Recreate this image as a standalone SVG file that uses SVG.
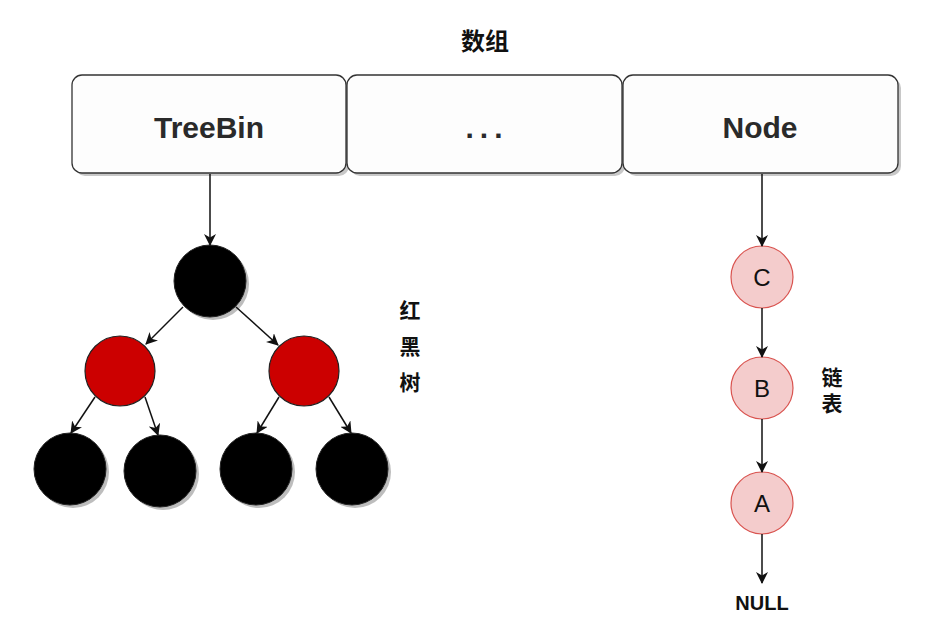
<svg xmlns="http://www.w3.org/2000/svg" width="930" height="624" viewBox="0 0 930 624">
<style>
.box{fill:#fdfdfd;stroke:#333;stroke-width:1.3}
.shadow{fill:#c8c8c8}
.lbl{font-family:"Comic Sans MS","Liberation Sans","DejaVu Sans",sans-serif;font-size:30px;font-weight:bold;fill:#2a2a2a;text-anchor:middle}
.cn{font-family:"Liberation Sans","Noto Sans CJK SC",sans-serif;font-weight:bold;fill:#111;text-anchor:middle}
.blk{fill:#000;stroke:#222;stroke-width:1}
.red{fill:#cc0000;stroke:#222;stroke-width:1.2}
.csh{fill:#bdbdbd}
.pink{fill:#f4cccc;stroke:#d9534f;stroke-width:1.2}
.letter{font-family:"Comic Sans MS","Liberation Sans","DejaVu Sans",sans-serif;font-size:24px;fill:#111;text-anchor:middle}
.conn line{stroke:#111;stroke-width:1.5;marker-end:url(#ah)}
</style>
<defs>
<marker id="ah" viewBox="0 0 12 12" refX="11" refY="6" markerWidth="12" markerHeight="12" markerUnits="userSpaceOnUse" orient="auto">
<path d="M0,0 L12,6 L0,12 L3.5,6 Z" fill="#111"/>
</marker>
</defs>
<rect width="930" height="624" fill="#fff"/>
<text class="cn" x="485" y="50" font-size="24">数组</text>

<g id="box-treebin">
<rect class="shadow" x="75" y="78" width="274" height="98" rx="10"/>
<rect class="box" x="72" y="75" width="274" height="98" rx="10"/>
<text class="lbl" x="209" y="138">TreeBin</text>
</g>
<g id="box-dots">
<rect class="shadow" x="350" y="78" width="275" height="98" rx="10"/>
<rect class="box" x="347" y="75" width="275" height="98" rx="10"/>
<text class="lbl" x="487" y="138" letter-spacing="6">...</text>
</g>
<g id="box-node">
<rect class="shadow" x="626" y="78" width="275" height="98" rx="10"/>
<rect class="box" x="623" y="75" width="275" height="98" rx="10"/>
<text class="lbl" x="760" y="138">Node</text>
</g>

<g id="root"><circle class="csh" cx="213" cy="284" r="36"/><circle class="blk" cx="210" cy="281" r="36"/></g>
<g id="red-left"><circle class="red" cx="120" cy="371" r="35"/></g>
<g id="red-right"><circle class="red" cx="304" cy="371" r="35"/></g>
<g id="leaf1"><circle class="csh" cx="73" cy="472" r="36"/><circle class="blk" cx="70" cy="469" r="36"/></g>
<g id="leaf2"><circle class="csh" cx="163" cy="474" r="36"/><circle class="blk" cx="160" cy="471" r="36"/></g>
<g id="leaf3"><circle class="csh" cx="259" cy="472" r="36"/><circle class="blk" cx="256" cy="469" r="36"/></g>
<g id="leaf4"><circle class="csh" cx="355" cy="472" r="36"/><circle class="blk" cx="352" cy="469" r="36"/></g>

<g id="label-rbt">
<text class="cn" x="410" y="318" font-size="21">红</text>
<text class="cn" x="410" y="354" font-size="21">黑</text>
<text class="cn" x="410" y="390" font-size="21">树</text>
</g>

<g id="node-c"><circle class="pink" cx="762" cy="277" r="31"/><text class="letter" x="762" y="286">C</text></g>
<g id="node-b"><circle class="pink" cx="762" cy="388" r="31"/><text class="letter" x="762" y="397">B</text></g>
<g id="node-a"><circle class="pink" cx="762" cy="503" r="31"/><text class="letter" x="762" y="512">A</text></g>
<g id="null"><text class="cn" x="762" y="610" font-size="20">NULL</text></g>

<g id="label-ll">
<text class="cn" x="832" y="385" font-size="21">链</text>
<text class="cn" x="832" y="411" font-size="21">表</text>
</g>

<g class="conn" id="connectors">
<line x1="210" y1="174" x2="210" y2="245"/>
<line x1="183" y1="307" x2="146" y2="344"/>
<line x1="236" y1="307" x2="278" y2="345"/>
<line x1="95" y1="397" x2="71" y2="433"/>
<line x1="145" y1="397" x2="158" y2="435"/>
<line x1="279" y1="397" x2="257" y2="433"/>
<line x1="329" y1="397" x2="351" y2="433"/>
<line x1="762" y1="174" x2="762" y2="246"/>
<line x1="762" y1="308" x2="762" y2="357"/>
<line x1="762" y1="419" x2="762" y2="472"/>
<line x1="762" y1="534" x2="762" y2="583"/>
</g>
</svg>
